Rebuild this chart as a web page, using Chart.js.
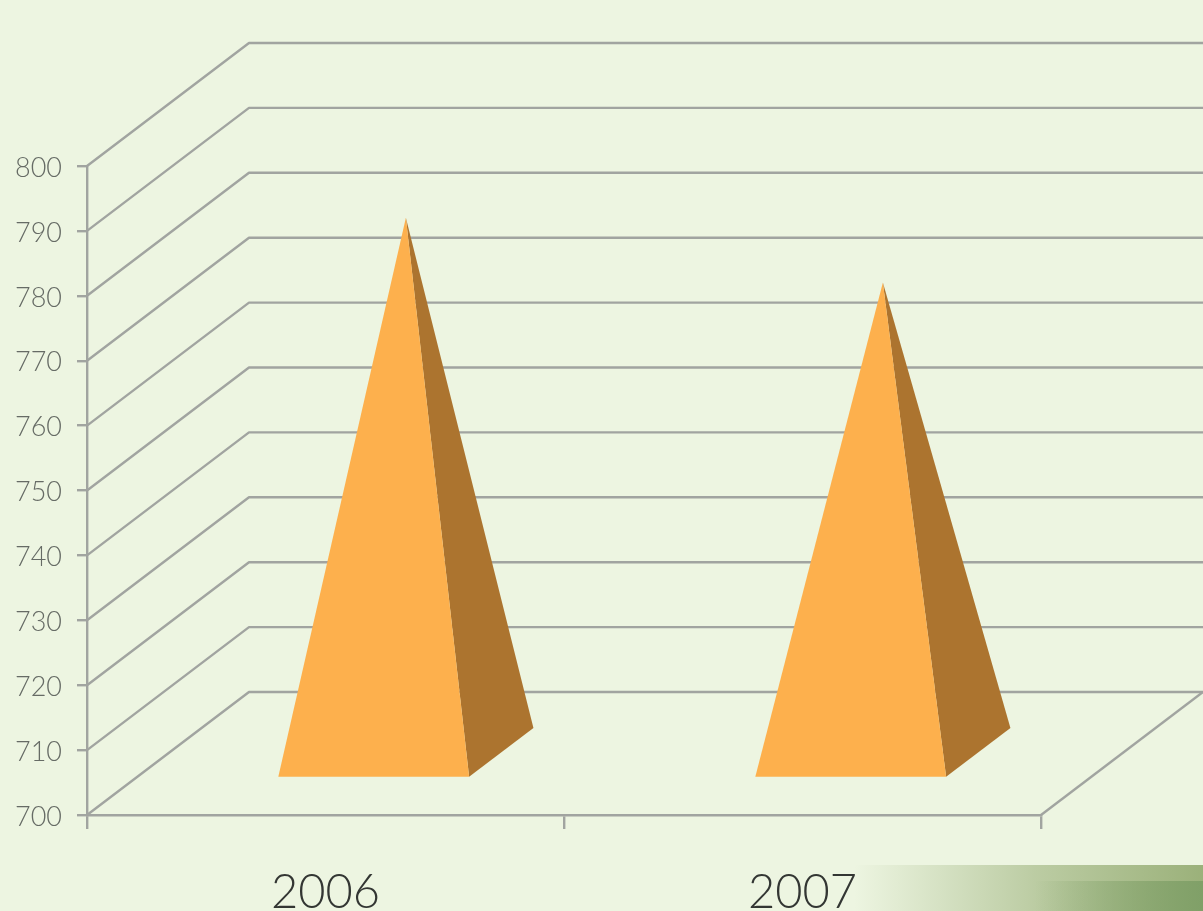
<!DOCTYPE html>
<html>
<head>
<meta charset="utf-8">
<style>
  html, body { margin: 0; padding: 0; width: 1203px; height: 911px; overflow: hidden; background: #edf5e1; }
  .band { position: absolute; left: 0; width: 1203px; }
  #bandTop { top: 865px; height: 46px; background: linear-gradient(90deg, rgba(155,177,122,0) 71%, rgba(155,177,122,0.6) 86%, #9bb17a 100%); }
  #bandLow { top: 881px; height: 30px; background: linear-gradient(90deg, rgba(126,156,98,0) 86%, #80a068 100%); }
  canvas { position: absolute; left: 0; top: 0; }
</style>
</head>
<body>
<div class="band" id="bandTop"></div>
<div class="band" id="bandLow"></div>
<canvas id="chart" width="1203" height="911"></canvas>
<script src="https://cdn.jsdelivr.net/npm/chart.js@4"></script>
<script>
const categories = ['2006', '2007'];
const values = [782.4, 772.4];
const yMin = 700;
const yMax = 800;
const yStep = 10;

const gridColor = '#a1a4a0';
const frontColor = '#fdb04d';
const sideColor = '#ac742f';

// how far the back wall sits from the front plane
const depthX = 162;
const depthY = 123;
// where the pyramid base sits inside the floor depth, 0 front .. 1 back
const baseFront = 0.31;
const baseBack = 0.707;
// pyramids sit a touch left of the category centre
const nudgeX = -2;

const wallPlugin = {
    id: 'wall',
    beforeDatasetsDraw(chart) {
        const { ctx, chartArea, scales } = chart;
        ctx.save();
        ctx.strokeStyle = gridColor;
        ctx.lineWidth = 2.4;
        ctx.lineJoin = 'round';
        scales.y.ticks.forEach((tick) => {
            const y = scales.y.getPixelForValue(tick.value);
            ctx.beginPath();
            ctx.moveTo(chartArea.left, y);
            ctx.lineTo(chartArea.left + depthX, y - depthY);
            ctx.lineTo(chartArea.right + depthX, y - depthY);
            ctx.stroke();
        });
        // right edge of the floor
        ctx.beginPath();
        ctx.moveTo(chartArea.right, chartArea.bottom);
        ctx.lineTo(chartArea.right + depthX, chartArea.bottom - depthY);
        ctx.stroke();
        ctx.restore();
    }
};

const pyramidPlugin = {
    id: 'pyramid',
    afterDatasetsDraw(chart) {
        const { ctx, scales } = chart;
        const floor = scales.y.getPixelForValue(yMin);
        const midDepth = (baseFront + baseBack) / 2;
        ctx.save();
        chart.getDatasetMeta(0).data.forEach((bar) => {
            const half = bar.width / 2;
            const cx = bar.x + nudgeX;
            const frontY = floor - depthY * baseFront;
            const frontShift = depthX * baseFront;
            const backY = floor - depthY * baseBack;
            const backShift = depthX * baseBack;
            const tipX = cx + depthX * midDepth;
            const tipY = bar.y - depthY * midDepth;

            ctx.fillStyle = sideColor;
            ctx.beginPath();
            ctx.moveTo(cx + half + frontShift, frontY);
            ctx.lineTo(cx + half + backShift, backY);
            ctx.lineTo(tipX, tipY);
            ctx.closePath();
            ctx.fill();

            ctx.fillStyle = frontColor;
            ctx.beginPath();
            ctx.moveTo(cx - half + frontShift, frontY);
            ctx.lineTo(cx + half + frontShift, frontY);
            ctx.lineTo(tipX, tipY);
            ctx.closePath();
            ctx.fill();
        });
        ctx.restore();
    }
};

new Chart(document.getElementById('chart'), {
    type: 'bar',
    data: {
        labels: categories,
        datasets: [{
            data: values,
            backgroundColor: 'rgba(0,0,0,0)',
            barPercentage: 0.4,
            categoryPercentage: 1
        }]
    },
    options: {
        responsive: false,
        animation: false,
        layout: { padding: { top: 166, right: 162, left: 0, bottom: 0 } },
        plugins: { legend: { display: false }, tooltip: { enabled: false } },
        scales: {
            x: {
                afterFit: (scale) => { scale.height = 96; },
                border: { color: gridColor, width: 2.4 },
                grid: { color: gridColor, lineWidth: 2.4, drawOnChartArea: false, tickLength: 14 },
                ticks: { color: '#333633', padding: 36, font: { family: 'Lato', size: 47, weight: '300' }, maxRotation: 0 }
            },
            y: {
                min: yMin,
                max: yMax,
                afterFit: (scale) => { scale.width = 87; },
                border: { color: gridColor, width: 2.4 },
                grid: { color: gridColor, lineWidth: 2.4, drawOnChartArea: false, tickLength: 10 },
                ticks: { stepSize: yStep, color: '#666b65', padding: 15, labelOffset: 2, font: { family: 'Lato', size: 27, weight: '300' } }
            }
        }
    },
    plugins: [wallPlugin, pyramidPlugin]
});
</script>
</body>
</html>
